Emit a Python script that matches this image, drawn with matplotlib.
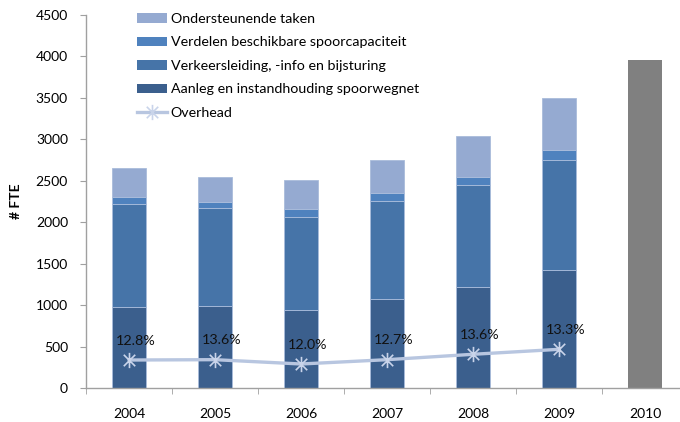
import matplotlib
matplotlib.use("Agg")
import matplotlib.pyplot as plt
from matplotlib.patches import Patch
from matplotlib.lines import Line2D
from matplotlib.path import Path
import numpy as np

plt.rcParams['font.family'] = ['Lato', 'DejaVu Sans']

years = ['2004', '2005', '2006', '2007', '2008', '2009', '2010']
aanleg = [976, 996, 944, 1073, 1225, 1426]
verkeersleiding = [1241, 1181, 1125, 1181, 1229, 1322]
verdelen = [85, 72, 92, 104, 97, 128]
ondersteunend = [350, 302, 350, 394, 494, 620]
total_2010 = 3957
overhead = [341, 345, 293, 345, 410, 470]
overhead_pct = ['12.8%', '13.6%', '12.0%', '12.7%', '13.6%', '13.3%']

c_aanleg = '#3B5F8D'
c_verkeer = '#4674A8'
c_verdelen = '#4F82BE'
c_onder = '#95AAD1'
c_total = '#808080'
c_overhead = '#B8C6E0'

fig = plt.figure(figsize=(6.8, 4.22), dpi=100)
ax = fig.add_axes([86 / 680, 1 - 388.3 / 422, 602 / 680, 373.3 / 422])

x = np.arange(6)
w = 0.385
edge = dict(edgecolor='#A9BCDB', linewidth=0.6)
b0 = np.zeros(6)
ax.bar(x, aanleg, w, bottom=b0, color=c_aanleg, **edge, zorder=2)
b1 = b0 + np.array(aanleg)
ax.bar(x, verkeersleiding, w, bottom=b1, color=c_verkeer, **edge, zorder=2)
b2 = b1 + np.array(verkeersleiding)
ax.bar(x, verdelen, w, bottom=b2, color=c_verdelen, **edge, zorder=2)
b3 = b2 + np.array(verdelen)
ax.bar(x, ondersteunend, w, bottom=b3, color=c_onder, **edge, zorder=2)
ax.bar([6], [total_2010], w, color=c_total, zorder=2)

star = Path([(0, -1), (0, 1), (-0.75, -0.75), (0.75, 0.75), (-0.75, 0.75), (0.75, -0.75)],
            [Path.MOVETO, Path.LINETO] * 3)
ax.plot(x, overhead, color=c_overhead, lw=2.4, zorder=3, solid_capstyle='round')
ax.plot(x, overhead, ls='none', marker=star, markersize=11, markeredgewidth=1.2,
        markeredgecolor='#C9D4EA', zorder=4)
for xi, yi, lab in zip(x, overhead, overhead_pct):
    ax.annotate(lab, (xi, yi), xytext=(5, 14), textcoords='offset points',
                ha='center', va='center', fontsize=10.3, color='#111111', zorder=5)

ax.set_xlim(-0.5, 6.5)
ax.set_ylim(0, 4500)
ax.set_yticks(np.arange(0, 4501, 500))
ax.set_xticks(np.arange(7))
ax.set_xticklabels(years)
ax.set_xticks(np.arange(-0.5, 7, 1), minor=True)
ax.tick_params(axis='x', which='major', length=0, pad=14, labelsize=10)
ax.tick_params(axis='x', which='minor', length=4, color='#A0A0A0', direction='out')
ax.tick_params(axis='y', length=4, color='#A0A0A0', pad=9, labelsize=10)
for s in ['top', 'right']:
    ax.spines[s].set_visible(False)
for s in ['left', 'bottom']:
    ax.spines[s].set_color('#A0A0A0')
    ax.spines[s].set_linewidth(1.0)
ax.set_ylabel('# FTE', fontsize=10, fontweight='bold', labelpad=10)

handles = [
    Patch(facecolor=c_onder, edgecolor='none'),
    Patch(facecolor=c_verdelen, edgecolor='none'),
    Patch(facecolor=c_verkeer, edgecolor='none'),
    Patch(facecolor=c_aanleg, edgecolor='none'),
    Line2D([], [], color=c_overhead, lw=2.4, marker=star, markersize=11,
           markeredgecolor='#C9D4EA', markeredgewidth=1.2),
]
labels = ['Ondersteunende taken', 'Verdelen beschikbare spoorcapaciteit',
          'Verkeersleiding, -info en bijsturing', 'Aanleg en instandhouding spoorwegnet',
          'Overhead']
fig.legend(handles, labels, loc='upper left', bbox_to_anchor=(137 / 680, 1 - 13 / 422),
           frameon=False, fontsize=10.3, handlelength=2.1, handleheight=0.65,
           handletextpad=0.25, labelspacing=0.8, borderpad=0, borderaxespad=0)

fig.savefig('out.png', dpi=100)
